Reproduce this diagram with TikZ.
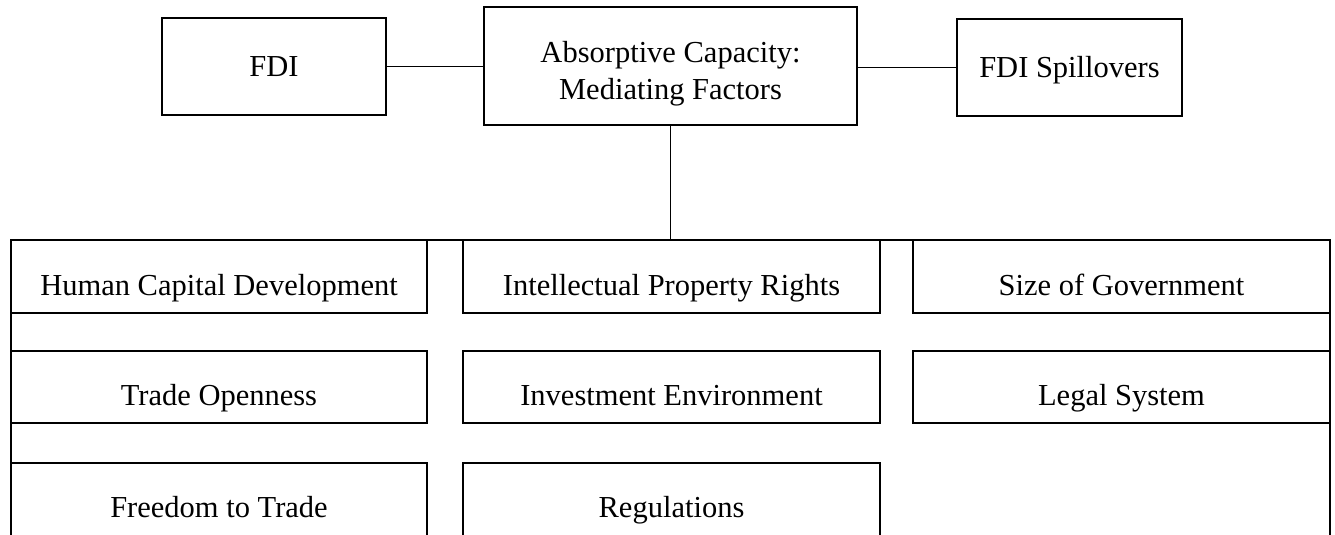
\documentclass[tikz,border=0pt]{standalone}
\usepackage{fontspec}
\setmainfont{Liberation Serif}
\begin{document}
\begin{tikzpicture}[x=1pt,y=-1pt,
  box/.style={draw, line width=1.4pt, inner sep=0pt, font=\fontsize{30.5}{37}\selectfont},
  topbox/.style={box, text height=20pt, text depth=0pt, minimum height=97pt},
  rowbox/.style={box, text height=37pt, text depth=0pt, minimum width=417pt, minimum height=73pt},
  lastrow/.style={box, text height=32pt, text depth=0pt, minimum width=417pt, minimum height=76pt},
  link/.style={line width=0.9pt}]
\useasboundingbox (0,0) rectangle (1335,535);
\clip (0,0) rectangle (1335,535);
% outer frame (cut at bottom)
\node[draw, line width=1.4pt, inner sep=0pt, minimum width=1319pt, minimum height=360pt] (frame) at (670.5,420) {};
% top row
\node[topbox, minimum width=224pt] (fdi) at (274,66.5) {FDI};
\node[box, minimum width=373pt, minimum height=118pt, text height=38pt, text depth=44pt] (ac) at (670.5,66)
  {\parbox[t]{320pt}{\centering Absorptive Capacity:\\Mediating Factors}};
\node[topbox, minimum width=225pt] (sp) at (1069.5,67.5) {FDI Spillovers};
% factor boxes
\node[rowbox, minimum width=416pt] (hcd) at (219,276.5) {Human Capital Development};
\node[rowbox] (ipr) at (671.5,276.5) {Intellectual Property Rights};
\node[rowbox] (sog) at (1121.5,276.5) {Size of Government};
\node[rowbox, minimum width=416pt, minimum height=72pt] (to) at (219,387) {Trade Openness};
\node[rowbox, minimum height=72pt] (ie) at (671.5,387) {Investment Environment};
\node[rowbox, minimum height=72pt] (ls) at (1121.5,387) {Legal System};
\node[lastrow, minimum width=416pt] (ftt) at (219,501) {Freedom to Trade};
\node[lastrow] (reg) at (671.5,501) {Regulations};
% connectors
\draw[link] (fdi.east) -- (fdi.east -| ac.west);
\draw[link] (ac.east |- sp.west) -- (sp.west);
\draw[link] (ac.south) -- (ac.south |- frame.north);
\end{tikzpicture}
\end{document}
